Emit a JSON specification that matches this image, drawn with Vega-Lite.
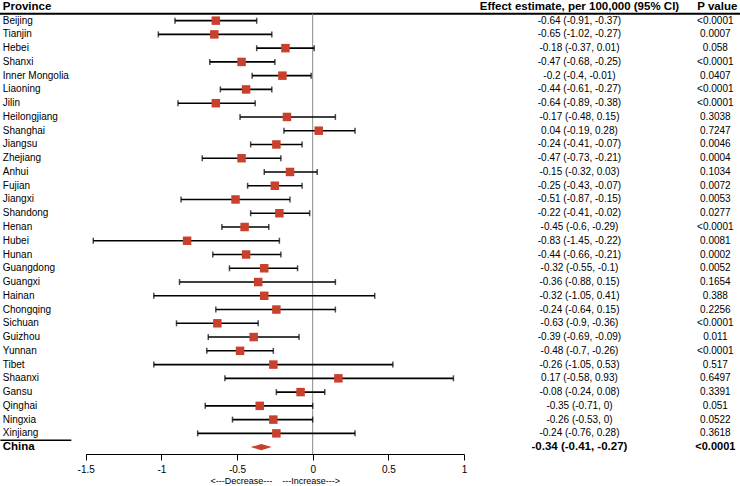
{
  "$schema": "https://vega.github.io/schema/vega-lite/v6.json",
  "width": 740,
  "height": 454,
  "autosize": {"type": "none"},
  "padding": {"left": 0, "top": 0, "right": 0, "bottom": 32},
  "config": {
    "view": {"stroke": null},
    "font": "Liberation Sans",
    "axisX": {
      "domainColor": "#000000",
      "domainWidth": 1,
      "tickColor": "#000000",
      "tickSize": 6,
      "tickWidth": 1,
      "labelFontSize": 10,
      "labelColor": "#000000",
      "labelPadding": 4,
      "labelFlush": false,
      "labelOverlap": false,
      "grid": false,
      "titleFontSize": 9,
      "titleFontWeight": "normal",
      "titleColor": "#000000",
      "titlePadding": 2
    }
  },
  "datasets": {
    "prov": [
      {"province": "Beijing", "est": -0.64, "lo": -0.91, "hi": -0.37, "ci": "-0.64 (-0.91, -0.37)", "p": "<0.0001"},
      {"province": "Tianjin", "est": -0.65, "lo": -1.02, "hi": -0.27, "ci": "-0.65 (-1.02, -0.27)", "p": "0.0007"},
      {"province": "Hebei", "est": -0.18, "lo": -0.37, "hi": 0.01, "ci": "-0.18 (-0.37, 0.01)", "p": "0.058"},
      {"province": "Shanxi", "est": -0.47, "lo": -0.68, "hi": -0.25, "ci": "-0.47 (-0.68, -0.25)", "p": "<0.0001"},
      {"province": "Inner Mongolia", "est": -0.2, "lo": -0.4, "hi": -0.01, "ci": "-0.2 (-0.4, -0.01)", "p": "0.0407"},
      {"province": "Liaoning", "est": -0.44, "lo": -0.61, "hi": -0.27, "ci": "-0.44 (-0.61, -0.27)", "p": "<0.0001"},
      {"province": "Jilin", "est": -0.64, "lo": -0.89, "hi": -0.38, "ci": "-0.64 (-0.89, -0.38)", "p": "<0.0001"},
      {"province": "Heilongjiang", "est": -0.17, "lo": -0.48, "hi": 0.15, "ci": "-0.17 (-0.48, 0.15)", "p": "0.3038"},
      {"province": "Shanghai", "est": 0.04, "lo": -0.19, "hi": 0.28, "ci": "0.04 (-0.19, 0.28)", "p": "0.7247"},
      {"province": "Jiangsu", "est": -0.24, "lo": -0.41, "hi": -0.07, "ci": "-0.24 (-0.41, -0.07)", "p": "0.0046"},
      {"province": "Zhejiang", "est": -0.47, "lo": -0.73, "hi": -0.21, "ci": "-0.47 (-0.73, -0.21)", "p": "0.0004"},
      {"province": "Anhui", "est": -0.15, "lo": -0.32, "hi": 0.03, "ci": "-0.15 (-0.32, 0.03)", "p": "0.1034"},
      {"province": "Fujian", "est": -0.25, "lo": -0.43, "hi": -0.07, "ci": "-0.25 (-0.43, -0.07)", "p": "0.0072"},
      {"province": "Jiangxi", "est": -0.51, "lo": -0.87, "hi": -0.15, "ci": "-0.51 (-0.87, -0.15)", "p": "0.0053"},
      {"province": "Shandong", "est": -0.22, "lo": -0.41, "hi": -0.02, "ci": "-0.22 (-0.41, -0.02)", "p": "0.0277"},
      {"province": "Henan", "est": -0.45, "lo": -0.6, "hi": -0.29, "ci": "-0.45 (-0.6, -0.29)", "p": "<0.0001"},
      {"province": "Hubei", "est": -0.83, "lo": -1.45, "hi": -0.22, "ci": "-0.83 (-1.45, -0.22)", "p": "0.0081"},
      {"province": "Hunan", "est": -0.44, "lo": -0.66, "hi": -0.21, "ci": "-0.44 (-0.66, -0.21)", "p": "0.0002"},
      {"province": "Guangdong", "est": -0.32, "lo": -0.55, "hi": -0.1, "ci": "-0.32 (-0.55, -0.1)", "p": "0.0052"},
      {"province": "Guangxi", "est": -0.36, "lo": -0.88, "hi": 0.15, "ci": "-0.36 (-0.88, 0.15)", "p": "0.1654"},
      {"province": "Hainan", "est": -0.32, "lo": -1.05, "hi": 0.41, "ci": "-0.32 (-1.05, 0.41)", "p": "0.388"},
      {"province": "Chongqing", "est": -0.24, "lo": -0.64, "hi": 0.15, "ci": "-0.24 (-0.64, 0.15)", "p": "0.2256"},
      {"province": "Sichuan", "est": -0.63, "lo": -0.9, "hi": -0.36, "ci": "-0.63 (-0.9, -0.36)", "p": "<0.0001"},
      {"province": "Guizhou", "est": -0.39, "lo": -0.69, "hi": -0.09, "ci": "-0.39 (-0.69, -0.09)", "p": "0.011"},
      {"province": "Yunnan", "est": -0.48, "lo": -0.7, "hi": -0.26, "ci": "-0.48 (-0.7, -0.26)", "p": "<0.0001"},
      {"province": "Tibet", "est": -0.26, "lo": -1.05, "hi": 0.53, "ci": "-0.26 (-1.05, 0.53)", "p": "0.517"},
      {"province": "Shaanxi", "est": 0.17, "lo": -0.58, "hi": 0.93, "ci": "0.17 (-0.58, 0.93)", "p": "0.6497"},
      {"province": "Gansu", "est": -0.08, "lo": -0.24, "hi": 0.08, "ci": "-0.08 (-0.24, 0.08)", "p": "0.3391"},
      {"province": "Qinghai", "est": -0.35, "lo": -0.71, "hi": 0, "ci": "-0.35 (-0.71, 0)", "p": "0.051"},
      {"province": "Ningxia", "est": -0.26, "lo": -0.53, "hi": 0, "ci": "-0.26 (-0.53, 0)", "p": "0.0522"},
      {"province": "Xinjiang", "est": -0.24, "lo": -0.76, "hi": 0.28, "ci": "-0.24 (-0.76, 0.28)", "p": "0.3618"}
    ],
    "china": [
      {"province": "China", "est": -0.34, "lo": -0.41, "hi": -0.27, "ci": "-0.34 (-0.41, -0.27)", "p": "<0.0001"}
    ],
    "one": [{}]
  },
  "data": {"name": "prov"},
  "layer": [
    {
      "data": {"name": "one"},
      "mark": {"type": "rule", "color": "#000000", "strokeWidth": 1.8},
      "encoding": {
        "y": {
          "datum": "Beijing",
          "type": "nominal",
          "bandPosition": 0,
          "axis": null,
          "scale": {
            "domain": ["__header", "Beijing", "Tianjin", "Hebei", "Shanxi", "Inner Mongolia", "Liaoning", "Jilin", "Heilongjiang", "Shanghai", "Jiangsu", "Zhejiang", "Anhui", "Fujian", "Jiangxi", "Shandong", "Henan", "Hubei", "Hunan", "Guangdong", "Guangxi", "Hainan", "Chongqing", "Sichuan", "Guizhou", "Yunnan", "Tibet", "Shaanxi", "Gansu", "Qinghai", "Ningxia", "Xinjiang", "China"],
            "paddingInner": 0,
            "paddingOuter": 0
          }
        }
      }
    },
    {
      "data": {"name": "one"},
      "mark": {"type": "rule", "color": "#8a8a8a", "strokeWidth": 1},
      "encoding": {
        "x": {"datum": 0, "type": "quantitative"},
        "y": {"datum": "Beijing", "type": "nominal", "bandPosition": 0},
        "y2": {"datum": "China", "bandPosition": 1}
      }
    },
    {
      "data": {"name": "one"},
      "mark": {"type": "rule", "color": "#000000", "strokeWidth": 1.3},
      "encoding": {
        "x": {"datum": -2.064, "type": "quantitative"},
        "x2": {"datum": -1.595},
        "y": {"datum": "China", "type": "nominal", "bandPosition": 0}
      }
    },
    {
      "mark": {"type": "rule", "color": "#000000", "strokeWidth": 1.6},
      "encoding": {
        "x": {
          "field": "lo",
          "type": "quantitative",
          "title": "<---Decrease---\u00a0\u00a0\u00a0\u00a0---Increase--->",
          "scale": {"domain": [-1.5, 1], "range": [85.7, 464], "nice": false, "zero": false},
          "axis": {
            "values": [-1.5, -1, -0.5, 0, 0.5, 1],
            "labelExpr": "datum.value < 0 ? '-' + format(-datum.value, '') : format(datum.value, '')"
          }
        },
        "x2": {"field": "hi"},
        "y": {"field": "province", "type": "nominal"}
      }
    },
    {
      "mark": {"type": "tick", "color": "#000000", "size": 6, "thickness": 1.5},
      "encoding": {
        "x": {"field": "lo", "type": "quantitative"},
        "y": {"field": "province", "type": "nominal"}
      }
    },
    {
      "mark": {"type": "tick", "color": "#000000", "size": 6, "thickness": 1.5},
      "encoding": {
        "x": {"field": "hi", "type": "quantitative"},
        "y": {"field": "province", "type": "nominal"}
      }
    },
    {
      "mark": {"type": "point", "shape": "square", "filled": true, "size": 72, "color": "#C9402C", "opacity": 1, "strokeWidth": 0},
      "encoding": {
        "x": {"field": "est", "type": "quantitative"},
        "y": {"field": "province", "type": "nominal"}
      }
    },
    {
      "data": {"name": "china"},
      "mark": {"type": "point", "shape": "M-1,0L0,-0.3L1,0L0,0.3Z", "filled": true, "size": 441, "color": "#C9402C", "opacity": 1, "strokeWidth": 0},
      "encoding": {
        "x": {"field": "est", "type": "quantitative"},
        "y": {"field": "province", "type": "nominal"}
      }
    },
    {
      "mark": {"type": "text", "align": "left", "baseline": "middle", "fontSize": 10, "color": "#000000"},
      "encoding": {
        "x": {"datum": -2.048, "type": "quantitative"},
        "y": {"field": "province", "type": "nominal"},
        "text": {"field": "province"}
      }
    },
    {
      "mark": {"type": "text", "align": "center", "baseline": "middle", "fontSize": 10, "color": "#000000"},
      "encoding": {
        "x": {"datum": 1.763, "type": "quantitative"},
        "y": {"field": "province", "type": "nominal"},
        "text": {"field": "ci"}
      }
    },
    {
      "mark": {"type": "text", "align": "center", "baseline": "middle", "fontSize": 10, "color": "#000000"},
      "encoding": {
        "x": {"datum": 2.661, "type": "quantitative"},
        "y": {"field": "province", "type": "nominal"},
        "text": {"field": "p"}
      }
    },
    {
      "data": {"name": "china"},
      "mark": {"type": "text", "align": "left", "baseline": "middle", "fontSize": 11.5, "fontWeight": "bold", "color": "#000000"},
      "encoding": {
        "x": {"datum": -2.048, "type": "quantitative"},
        "y": {"field": "province", "type": "nominal"},
        "text": {"field": "province"}
      }
    },
    {
      "data": {"name": "china"},
      "mark": {"type": "text", "align": "center", "baseline": "middle", "fontSize": 11.5, "fontWeight": "bold", "color": "#000000"},
      "encoding": {
        "x": {"datum": 1.763, "type": "quantitative"},
        "y": {"field": "province", "type": "nominal"},
        "text": {"field": "ci"}
      }
    },
    {
      "data": {"name": "china"},
      "mark": {"type": "text", "align": "center", "baseline": "middle", "fontSize": 11, "fontWeight": "bold", "color": "#000000"},
      "encoding": {
        "x": {"datum": 2.661, "type": "quantitative"},
        "y": {"field": "province", "type": "nominal"},
        "text": {"field": "p"}
      }
    },
    {
      "data": {"name": "one"},
      "mark": {"type": "text", "text": "Province", "align": "left", "baseline": "middle", "fontSize": 11.5, "fontWeight": "bold", "color": "#000000"},
      "encoding": {
        "x": {"datum": -2.048, "type": "quantitative"},
        "y": {"datum": "__header", "type": "nominal"}
      }
    },
    {
      "data": {"name": "one"},
      "mark": {"type": "text", "text": "Effect estimate, per 100,000 (95% CI)", "align": "center", "baseline": "middle", "fontSize": 11.5, "fontWeight": "bold", "color": "#000000"},
      "encoding": {
        "x": {"datum": 1.763, "type": "quantitative"},
        "y": {"datum": "__header", "type": "nominal"}
      }
    },
    {
      "data": {"name": "one"},
      "mark": {"type": "text", "text": "P value", "align": "center", "baseline": "middle", "fontSize": 11.5, "fontWeight": "bold", "color": "#000000"},
      "encoding": {
        "x": {"datum": 2.674, "type": "quantitative"},
        "y": {"datum": "__header", "type": "nominal"}
      }
    }
  ]
}
